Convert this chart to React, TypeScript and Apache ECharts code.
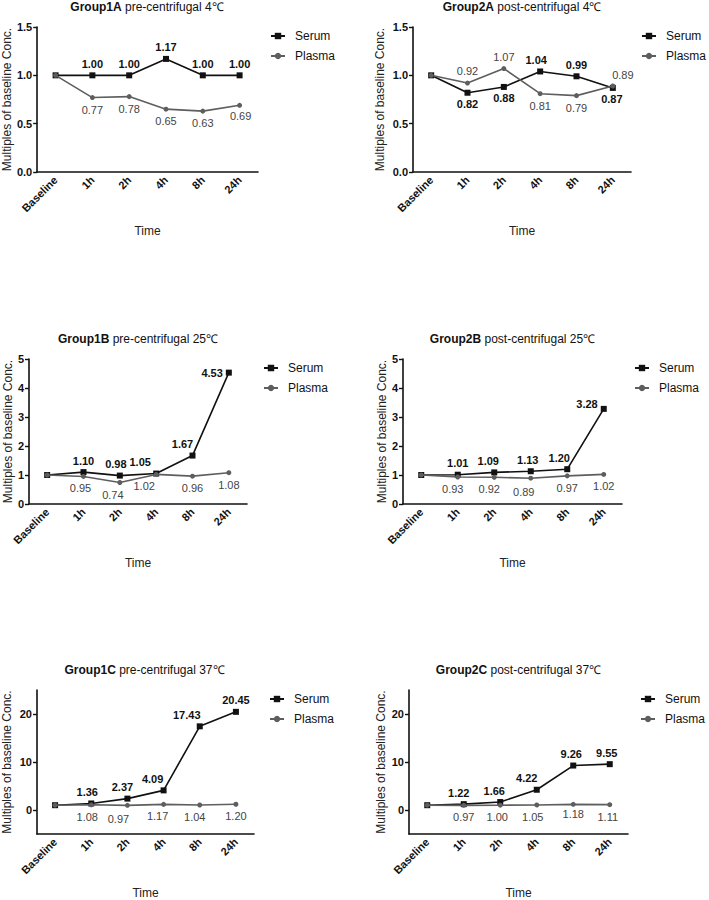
import React, { useEffect, useRef } from 'react';
import * as echarts from 'echarts';

const CATEGORIES = ['Baseline', '1h', '2h', '4h', '8h', '24h'];

const G1A_SERUM = [1.0, 1.0, 1.0, 1.17, 1.0, 1.0];
const G1A_PLASMA = [1.0, 0.77, 0.78, 0.65, 0.63, 0.69];
const G2A_SERUM = [1.0, 0.82, 0.88, 1.04, 0.99, 0.87];
const G2A_PLASMA = [1.0, 0.92, 1.07, 0.81, 0.79, 0.89];
const G1B_SERUM = [1.0, 1.1, 0.98, 1.05, 1.67, 4.53];
const G1B_PLASMA = [1.0, 0.95, 0.74, 1.02, 0.96, 1.08];
const G2B_SERUM = [1.0, 1.01, 1.09, 1.13, 1.2, 3.28];
const G2B_PLASMA = [1.0, 0.93, 0.92, 0.89, 0.97, 1.02];
const G1C_SERUM = [1.0, 1.36, 2.37, 4.09, 17.43, 20.45];
const G1C_PLASMA = [1.0, 1.08, 0.97, 1.17, 1.04, 1.2];
const G2C_SERUM = [1.0, 1.22, 1.66, 4.22, 9.26, 9.55];
const G2C_PLASMA = [1.0, 0.97, 1.0, 1.05, 1.18, 1.11];

const C_TICKS = [0, 10, 20];

const FONT = '"Liberation Sans", Arial, Helvetica, sans-serif';
const SERUM_COLOR = '#111111';
const PLASMA_COLOR = '#5e5e5e';

type Lab = [string, number, number];
const T = (dx = 0, dy = 0): Lab => ['top', dx, dy];
const B = (dx = 0, dy = 0): Lab => ['bottom', dx, dy];
const L = (dx = 0, dy = 0): Lab => ['left', dx, dy];

const PANELS = [
  {
    bold: 'Group1A', rest: ' pre-centrifugal 4℃', serum: G1A_SERUM, plasma: G1A_PLASMA,
    left: 36, top: 27, width: 222, height: 145, ymin: 0, ymax: 1.5, yint: 0.5, dec: 1,
    yNameGap: 21, legendLeft: 270,
    serumLab: [T(), T(), T(), T(), T(), T()],
    plasmaLab: [B(), B(), B(), B(), B(), B(1, -1)],
  },
  {
    bold: 'Group2A', rest: ' post-centrifugal 4℃', serum: G2A_SERUM, plasma: G2A_PLASMA,
    left: 413, top: 27, width: 218, height: 145, ymin: 0, ymax: 1.5, yint: 0.5, dec: 1,
    yNameGap: 27, legendLeft: 641,
    serumLab: [T(), B(), B(), T(-4), T(), B(-1)],
    plasmaLab: [T(), T(), T(), B(), B(), T(10, 1)],
  },
  {
    bold: 'Group1B', rest: ' pre-centrifugal 25℃', serum: G1B_SERUM, plasma: G1B_PLASMA,
    left: 29, top: 359, width: 218, height: 145, ymin: 0, ymax: 5, yint: 1, dec: 0,
    yNameGap: 12, legendLeft: 263,
    serumLab: [T(), T(), T(-4), T(-16), T(-10), L(0, 0)],
    plasmaLab: [B(), B(-3), B(-7), B(-12), B(), B()],
  },
  {
    bold: 'Group2B', rest: ' post-centrifugal 25℃', serum: G2B_SERUM, plasma: G2B_PLASMA,
    left: 403, top: 359, width: 219, height: 145, ymin: 0, ymax: 5, yint: 1, dec: 0,
    yNameGap: 15, legendLeft: 634,
    serumLab: [T(), T(), T(-6), T(-3), T(-8), L(0, -5)],
    plasmaLab: [B(), B(-5), B(-5), B(-7, 2), B(), B()],
  },
  {
    bold: 'Group1C', rest: ' pre-centrifugal 37℃', serum: G1C_SERUM, plasma: G1C_PLASMA,
    left: 35, top: 690, width: 219, height: 146, ymin: -5, ymax: 25, yint: 5, dec: 0,
    yNameGap: 24, legendLeft: 269, custom: C_TICKS,
    serumLab: [T(), T(-4), T(-5), T(-11), T(-13), T()],
    plasmaLab: [B(), B(-4), B(-9, 2), B(-6), B(-5), B()],
  },
  {
    bold: 'Group2C', rest: ' post-centrifugal 37℃', serum: G2C_SERUM, plasma: G2C_PLASMA,
    left: 409, top: 690, width: 219, height: 146, ymin: -5, ymax: 25, yint: 5, dec: 0,
    yNameGap: 22, legendLeft: 640, custom: C_TICKS,
    serumLab: [T(), T(-5), T(-6), T(-10), T(-2), T(-3)],
    plasmaLab: [B(), B(), B(-3), B(-4), B(0, -2), B(-2)],
  },
];

function buildData(values: number[], labs: Lab[]) {
  return values.map((v, i) => {
    if (i === 0) return { value: v, label: { show: false } };
    const [pos, dx, dy] = labs[i];
    return { value: v, label: { show: true, position: pos, offset: [dx, dy] } };
  });
}

function buildOption() {
  const grid: any[] = [];
  const xAxis: any[] = [];
  const yAxis: any[] = [];
  const series: any[] = [];
  const legend: any[] = [];
  const graphic: any[] = [];

  PANELS.forEach((p: any, i) => {
    grid.push({ left: p.left, top: p.top, width: p.width, height: p.height, containLabel: false });
    xAxis.push({
      type: 'category',
      gridIndex: i,
      data: CATEGORIES,
      boundaryGap: true,
      axisLine: { onZero: false, lineStyle: { color: '#111', width: 1.6 } },
      axisTick: { alignWithLabel: true, length: 4, lineStyle: { color: '#111', width: 1.4 } },
      axisLabel: { rotate: 45, fontSize: 11, fontWeight: 'bold', color: '#111', fontFamily: FONT, margin: 6, interval: 0 },
      splitLine: { show: false },
      name: 'Time',
      nameLocation: 'middle',
      nameGap: 53,
      nameTextStyle: { fontSize: 12, color: '#222', fontFamily: FONT },
    });
    const yLabel: any = {
      fontSize: 11, fontWeight: 'bold', color: '#111', fontFamily: FONT, margin: 5,
      formatter: (v: number) => (p.custom ? (C_TICKS.indexOf(v) >= 0 ? String(v) : '') : v.toFixed(p.dec)),
    };
    const yTick: any = { show: true, length: 4, lineStyle: { color: '#111', width: 1.4 } };
    if (p.custom) {
      yLabel.customValues = p.custom;
      yTick.customValues = p.custom;
    }
    yAxis.push({
      type: 'value',
      gridIndex: i,
      min: p.ymin,
      max: p.ymax,
      interval: p.yint,
      axisLine: { show: true, onZero: false, lineStyle: { color: '#111', width: 1.6 } },
      axisTick: yTick,
      axisLabel: yLabel,
      splitLine: { show: false },
      name: 'Multiples of baseline Conc.',
      nameLocation: 'middle',
      nameRotate: 90,
      nameGap: p.yNameGap,
      nameTextStyle: { fontSize: 12, color: '#222', fontFamily: FONT },
    });
    series.push({
      type: 'line',
      name: 'Serum',
      xAxisIndex: i,
      yAxisIndex: i,
      data: buildData(p.serum, p.serumLab),
      symbol: 'rect',
      symbolSize: 6,
      itemStyle: { color: SERUM_COLOR },
      lineStyle: { color: SERUM_COLOR, width: 1.6 },
      label: {
        show: true,
        distance: 3,
        fontSize: 11,
        fontWeight: 'bold',
        color: '#111',
        fontFamily: FONT,
        formatter: (d: any) => Number(d.value).toFixed(2),
      },
      z: 3,
    });
    series.push({
      type: 'line',
      name: 'Plasma',
      xAxisIndex: i,
      yAxisIndex: i,
      data: buildData(p.plasma, p.plasmaLab),
      symbol: 'circle',
      symbolSize: 5,
      itemStyle: { color: PLASMA_COLOR },
      lineStyle: { color: PLASMA_COLOR, width: 1.6 },
      label: {
        show: true,
        distance: 4,
        fontSize: 11,
        color: '#444',
        fontFamily: FONT,
        formatter: (d: any) => Number(d.value).toFixed(2),
      },
      z: 4,
    });
    legend.push({
      data: ['Serum', 'Plasma'],
      orient: 'vertical',
      left: p.legendLeft,
      top: p.top + 3,
      padding: 0,
      itemWidth: 14,
      itemHeight: 8,
      itemGap: 8,
      textStyle: { fontSize: 12, color: '#111', fontFamily: FONT, padding: [0, 0, 0, 5] },
      selectedMode: false,
    });
    graphic.push({
      type: 'text',
      x: p.left + p.width / 2,
      y: p.top - 20,
      style: {
        text: '{b|' + p.bold + '}{r|' + p.rest + '}',
        align: 'center',
        verticalAlign: 'middle',
        fontFamily: FONT,
        fontSize: 12,
        fill: '#111',
        rich: {
          b: { fontWeight: 'bold', fontSize: 12, fontFamily: FONT, fill: '#111', color: '#111' },
          r: { fontWeight: 'normal', fontSize: 12, fontFamily: FONT, fill: '#111', color: '#111' },
        },
      },
    });
  });

  return {
    animation: false,
    backgroundColor: '#ffffff',
    grid,
    xAxis,
    yAxis,
    series,
    legend,
    graphic,
  };
}

export default function App() {
  const ref = useRef<HTMLDivElement>(null);
  useEffect(() => {
    document.body.style.margin = '0';
    const chart = echarts.init(ref.current as HTMLDivElement, null, { renderer: 'svg' });
    chart.setOption(buildOption() as any);
    return () => chart.dispose();
  }, []);
  return <div ref={ref} style={{ position: 'absolute', left: 0, top: 0, width: 709, height: 900 }} />;
}
